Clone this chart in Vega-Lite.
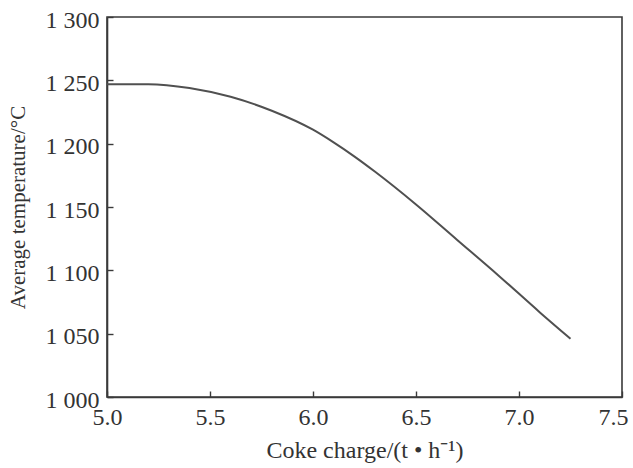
{
  "$schema": "https://vega.github.io/schema/vega-lite/v6.json",
  "width": 515,
  "height": 380,
  "autosize": {"type": "none"},
  "padding": {"left": 107, "top": 17, "right": 11, "bottom": 71},
  "background": "white",
  "config": {
    "view": {"stroke": "#3a3a3a", "strokeWidth": 1.6},
    "font": "Liberation Serif"
  },
  "data": {
    "values": [
      {"coke": 5.0, "temp": 1247},
      {"coke": 5.2, "temp": 1247},
      {"coke": 5.4, "temp": 1244},
      {"coke": 5.6, "temp": 1237},
      {"coke": 5.8, "temp": 1226},
      {"coke": 6.0, "temp": 1211},
      {"coke": 6.1, "temp": 1201},
      {"coke": 6.2, "temp": 1190},
      {"coke": 6.3, "temp": 1178},
      {"coke": 6.5, "temp": 1152},
      {"coke": 6.7, "temp": 1124},
      {"coke": 6.9, "temp": 1096},
      {"coke": 7.1, "temp": 1067},
      {"coke": 7.25, "temp": 1046}
    ]
  },
  "mark": {"type": "line", "color": "#505050", "strokeWidth": 2, "interpolate": "monotone"},
  "encoding": {
    "x": {
      "field": "coke",
      "type": "quantitative",
      "scale": {"domain": [5.0, 7.5], "nice": false, "zero": false},
      "axis": {
        "title": "Coke charge/(t • h⁻¹)",
        "values": [5.0, 5.5, 6.0, 6.5, 7.0, 7.5],
        "format": ".1f",
        "grid": false,
        "domainColor": "#3a3a3a",
        "domainWidth": 1.6,
        "tickColor": "#3a3a3a",
        "tickWidth": 1.4,
        "tickSize": -6,
        "labelFontSize": 24,
        "labelColor": "#333",
        "labelPadding": 14,
        "labelFlush": false,
        "labelOffset": {"condition": {"test": "datum.value == 7.5", "value": -9}, "value": 0},
        "titleFontSize": 24,
        "titleFontWeight": "normal",
        "titleColor": "#333",
        "titlePadding": 9
      }
    },
    "y": {
      "field": "temp",
      "type": "quantitative",
      "scale": {"domain": [1000, 1300], "nice": false, "zero": false},
      "axis": {
        "title": "Average temperature/°C",
        "values": [1000, 1050, 1100, 1150, 1200, 1250, 1300],
        "labelExpr": "replace(format(datum.value, ','), ',', ' ')",
        "grid": false,
        "domainColor": "#3a3a3a",
        "domainWidth": 1.6,
        "tickColor": "#3a3a3a",
        "tickWidth": 1.4,
        "tickSize": -6,
        "labelFontSize": 24,
        "labelColor": "#333",
        "labelPadding": 14,
        "labelFlush": false,
        "labelOffset": 3,
        "titleFontSize": 21,
        "titleFontWeight": "normal",
        "titleColor": "#333",
        "titlePadding": 17
      }
    }
  }
}
